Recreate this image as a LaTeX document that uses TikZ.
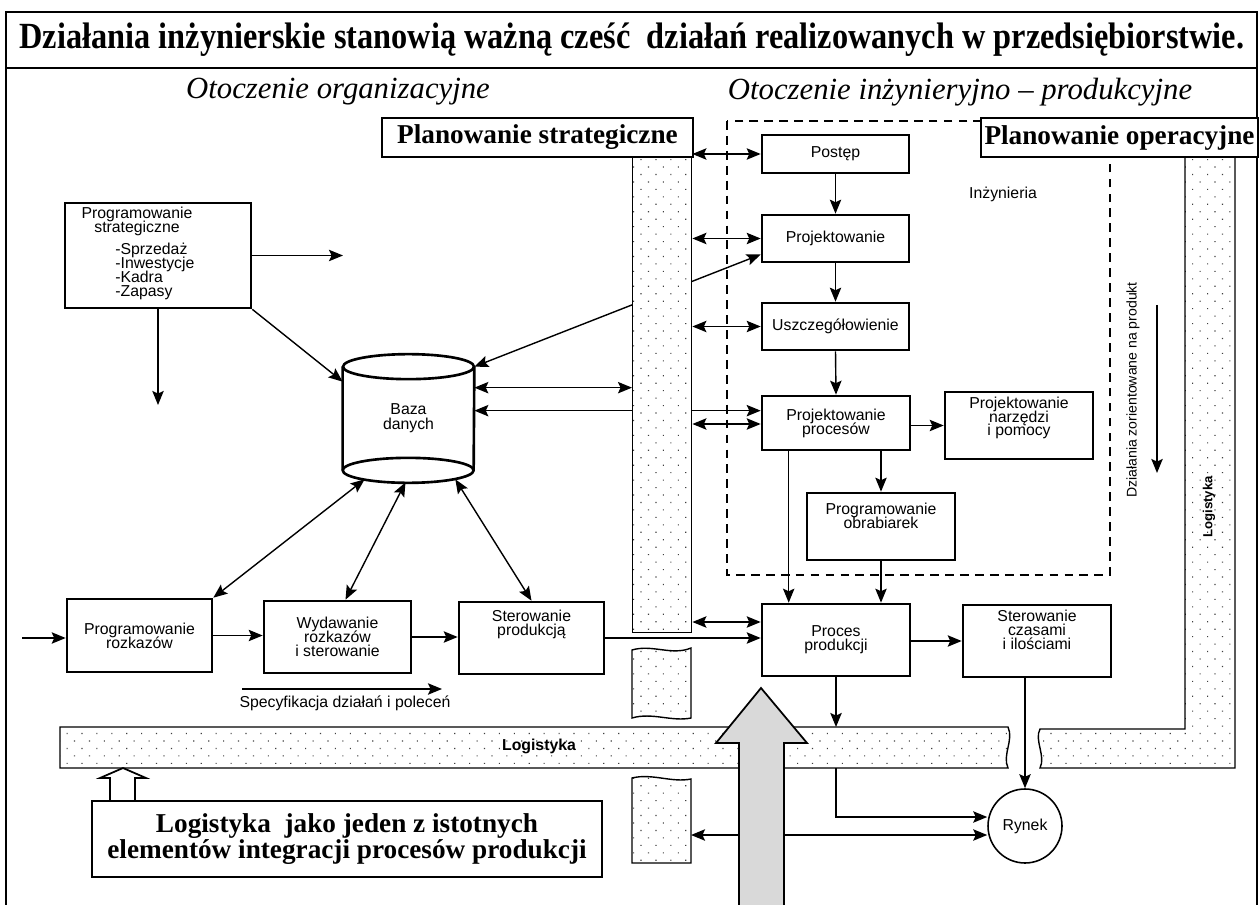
\documentclass[tikz,border=0pt]{standalone}
\usepackage{fontspec}
\setmainfont{Liberation Serif}
\setsansfont{Liberation Sans}
\usepackage{graphicx}
\usetikzlibrary{arrows.meta,calc,patterns.meta}

\newcommand{\ciasno}{\lineskiplimit-10pt\relax}

\tikzset{
  blok/.style={draw, line width=1.5pt, fill=white, inner sep=0pt, align=center, font=\sffamily\fontsize{9}{7.9}\selectfont\ciasno},
  opis/.style={inner sep=0pt, align=center, font=\sffamily\fontsize{9}{7.9}\selectfont\ciasno},
  plan/.style={draw, line width=0.9pt, fill=white, inner sep=0pt, font=\bfseries\fontsize{15.5}{15.5}\selectfont},
  kropki/.style={draw, line width=0.8pt, preaction={fill=white}, pattern={Dots[distance=6pt, angle=45, radius=0.45pt]}, pattern color=black!75},
  kreski/.style={line width=0.9pt, dash pattern=on 5pt off 3.5pt},
  strz/.style={line width=0.8pt, -{Stealth[length=8pt, width=6.5pt, inset=1.5pt]}},
  dwustrz/.style={line width=0.8pt, {Stealth[length=8pt, width=6.5pt, inset=1.5pt]}-{Stealth[length=8pt, width=6.5pt, inset=1.5pt]}}
}

\begin{document}
\begin{tikzpicture}[x=0.02cm, y=-0.02cm]
  \useasboundingbox (0,0) rectangle (1260,905);

  % ramka i naglowki
  \draw[line width=1.1pt] (6,905) -- (6,12) -- (1257,12) -- (1257,905);
  \draw[line width=1.1pt] (6,68) -- (1257,68);
  \node (tytul) at (632,40) {\resizebox{24.5cm}{\height}{\bfseries\fontsize{21}{24}\selectfont Działania inżynierskie stanowią ważną cześć\ \ działań realizowanych w przedsiębiorstwie.}};
  \node[font=\itshape\fontsize{17.5}{17.5}\selectfont] (otoczO) at (338,92) {Otoczenie organizacyjne};
  \node[font=\itshape\fontsize{17.5}{17.5}\selectfont] (otoczI) at (960,92) {Otoczenie inżynieryjno – produkcyjne};

  % strefa inzynierii
  \draw[kreski] (727,121) rectangle (1110,575);
  \node[opis] (inz) at (1003,194) {Inżynieria};

  % bloki
  \node[blok, minimum width=3.72cm, minimum height=2.1cm] (ps) at (158,255.5) {};
  \node[opis] at (137,221) {Programowanie\\strategiczne};
  \node[opis, align=left, anchor=north west] at (115,243) {-Sprzedaż\\-Inwestycje\\-Kadra\\-Zapasy};
  \node[blok, minimum width=2.94cm, minimum height=0.76cm] (postep) at (835.5,154) {Postęp};
  \node[blok, minimum width=2.94cm, minimum height=0.94cm] (projekt) at (835.5,238.5) {Projektowanie};
  \node[blok, minimum width=2.94cm, minimum height=0.94cm] (uszcz) at (835.5,326.5) {Uszczegółowienie};
  \node[blok, minimum width=2.96cm, minimum height=1.08cm] (pp) at (836,423) {Projektowanie\\procesów};
  \node[blok, minimum width=2.96cm, minimum height=1.34cm] (pn) at (1019,425.5) {};
  \node[opis] at (1019,418) {Projektowanie\\narzędzi\\i pomocy};
  \node[blok, minimum width=2.96cm, minimum height=1.34cm] (po) at (881,526.5) {};
  \node[opis] at (881,516) {Programowanie\\obrabiarek};
  \node[blok, minimum width=2.96cm, minimum height=1.44cm] (proc) at (836,640) {Proces\\produkcji};
  \node[blok, minimum width=2.96cm, minimum height=1.44cm] (sc) at (1037,641) {};
  \node[opis] at (1037,630) {Sterowanie\\czasami\\i ilościami};
  \node[blok, minimum width=2.9cm, minimum height=1.46cm] (pr) at (139.5,635.5) {Programowanie\\rozkazów};
  \node[blok, minimum width=2.94cm, minimum height=1.44cm] (wr) at (337.5,637) {Wydawanie\\rozkazów\\i sterowanie};
  \node[blok, minimum width=2.9cm, minimum height=1.44cm] (sp) at (531.5,638) {};
  \node[opis] at (531.5,624) {Sterowanie\\produkcją};
  \node[draw, circle, line width=0.9pt, minimum size=1.48cm, opis] (rynek) at (1025,826) {Rynek};

  % baza danych
  \node[opis, minimum width=2.62cm, minimum height=2.06cm, font=\sffamily\fontsize{9}{8.5}\selectfont] (baza) at (408.5,418.5) {Baza\\danych};
  \draw[line width=1.5pt] (baza.north west) -- (baza.south west) arc[start angle=180, end angle=360, x radius=1.31cm, y radius=0.25cm] -- (baza.north east);
  \draw[line width=1.5pt] (baza.north) ellipse[x radius=1.31cm, y radius=0.25cm];
  \draw[line width=1.5pt] (baza.south west) arc[start angle=180, end angle=0, x radius=1.31cm, y radius=0.25cm];

  % polaczenia za kolumna
  \draw[dwustrz] (baza.north east) -- ($(projekt.west)+(0,16)$);
  \coordinate (bazaE2) at ($(baza.north east)+(0,44)$);
  \draw[dwustrz] (bazaE2) -- (bazaE2 -| pp.west);
  \coordinate (kolCprawy) at (691,835);
  \coordinate (rynW2) at ($(rynek.west)+(0,9)$);
  \draw[dwustrz] (rynW2 -| kolCprawy) -- (rynW2);

  % logistyka
  \node[kropki, minimum width=1.18cm, minimum height=9.5cm, anchor=north west] (kolA) at (632,157) {};
  \draw[kropki] (632,650) .. controls (652,644) and (672,656) .. (691,648) -- (691,718) .. controls (672,722) and (652,712) .. (632,718) -- cycle;
  \draw[kropki] (632,778) .. controls (652,773) and (672,783) .. (691,779) -- (691,863) -- (632,863) -- cycle;
  \coordinate (pasNW) at (60,727);
  \coordinate (pasSW) at (60,768);
  \draw[kropki] (pasNW) -- (1008,727) .. controls (1014,740) and (1002,755) .. (1008,768) -- (pasSW) -- cycle;
  \draw[kropki] (1185,150) -- (1185,729) -- (1040,729) .. controls (1034,740) and (1046,756) .. (1040,768) -- (1235,768) -- (1235,150) -- cycle;
  \node[font=\sffamily\bfseries\fontsize{9}{9}\selectfont] (logPas) at (539,746) {Logistyka};
  \node[font=\sffamily\bfseries\fontsize{7.5}{7.5}\selectfont, rotate=90] (logPion) at (1209,507) {Logistyka};

  \node[plan, minimum width=6.22cm, minimum height=0.78cm] (planS) at (537.5,137.5) {Planowanie strategiczne};
  \node[plan, minimum width=5.54cm, minimum height=0.78cm] (planO) at (1119.5,137.5) {Planowanie operacyjne};

  % planowanie strategiczne
  \coordinate (psE) at (343,255.5);
  \coordinate (psS) at (158,405);
  \draw[strz] (ps.east) -- (psE);
  \draw[strz] (ps.south) -- (psS);
  \draw[strz] (ps.south east) -- ($(baza.north west)+(0,15)$);
  \draw[dwustrz] (pr.north east) -- ($(baza.south west)+(22,9)$);
  \draw[dwustrz] ($(wr.north)+(8,0)$) -- ($(baza.south)+(-3,12)$);
  \draw[dwustrz] (sp.north) -- ($(baza.south east)+(-19,9)$);
  \coordinate (bazaE1) at ($(baza.north east)+(0,21)$);
  \draw[dwustrz] (bazaE1) -- (bazaE1 -| kolA.west);

  % inzynieria
  \foreach \b in {postep,projekt,uszcz}
    \draw[dwustrz] (kolA.east |- \b.west) -- (\b.west);
  \foreach \a/\b in {postep/projekt,projekt/uszcz,uszcz/pp}
    \draw[strz] (\a.south) -- (\b.north);
  \coordinate (ppW) at ($(pp.west)+(0,1)$);
  \draw[dwustrz] (ppW -| kolA.east) -- (ppW);
  \draw[strz] (pp.east |- pn.west) -- (pn.west);
  \draw[strz] (pp.south -| po.north) -- (po.north);
  \coordinate (ppS) at ($(pp.south west)+(28,0)$);
  \draw[strz] (ppS) -- (ppS |- proc.north);
  \draw[strz] (po.south) -- (po.south |- proc.north);
  \coordinate (dzA) at (1157,305);
  \coordinate (dzB) at (1157,473);
  \draw[strz] (dzA) -- (dzB);
  \node[opis, font=\sffamily\fontsize{8}{8}\selectfont, rotate=90] (dzial) at (1133,390) {Działania zorientowane na produkt};

  % produkcja
  \coordinate (wejscie) at (22,638);
  \draw[strz] (wejscie) -- (wejscie -| pr.west);
  \draw[strz] (pr.east) -- (pr.east -| wr.west);
  \draw[strz] (wr.east) -- (wr.east -| sp.west);
  \draw[strz] (sp.east) -- (sp.east -| proc.west);
  \coordinate (procW1) at ($(proc.west)+(0,-18)$);
  \draw[dwustrz] (procW1 -| kolA.east) -- (procW1);
  \draw[strz] (proc.east |- sc.west) -- (sc.west);
  \draw[strz] (proc.south) -- (proc.south |- pasNW);
  \draw[strz] (proc.south |- pasSW) |- ($(rynek.west)+(0,-9)$);
  \draw[strz] (rynek.north |- sc.south) -- (rynek.north);
  \coordinate (specA) at (242,689);
  \coordinate (specB) at (442,689);
  \draw[strz] (specA) -- (specB);
  \node[opis] (spec) at (345,703) {Specyfikacja działań i poleceń};

  % integracja
  \draw[line width=1pt, fill=black!15] (761,688) -- (807,743) -- (784,743) -- (784,908) -- (739,908) -- (739,743) -- (716,743) -- cycle;
  \node[draw, line width=1.2pt, fill=white, minimum width=10.2cm, minimum height=1.52cm, align=center, font=\bfseries\fontsize{15.5}{13.7}\selectfont] (logbox) at (347,839) {Logistyka\ \ jako jeden z istotnych\\elementów integracji procesów produkcji};
  \draw[line width=1pt, fill=white] (123,768) -- (146,778) -- (135,778) -- (135,801) -- (110,801) -- (110,778) -- (100,778) -- cycle;
\end{tikzpicture}
\end{document}
